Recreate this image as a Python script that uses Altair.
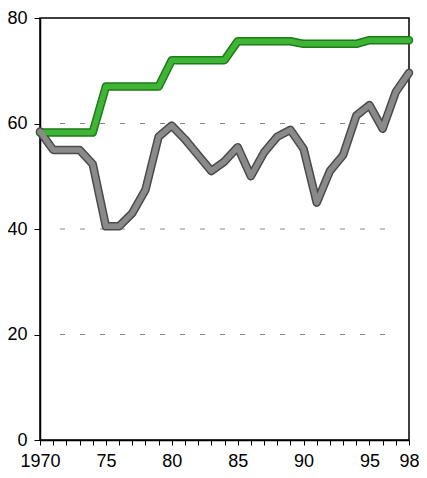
import altair as alt
import pandas as pd

years = list(range(1970, 1999))
green_vals = [58.3, 58.3, 58.3, 58.3, 58.3, 67, 67, 67, 67, 67,
              72, 72, 72, 72, 72, 75.6, 75.6, 75.6, 75.6, 75.6,
              75.1, 75.1, 75.1, 75.1, 75.1, 75.8, 75.8, 75.8, 75.8]
gray_vals = [58.5, 55, 55, 55, 52.3, 40.5, 40.5, 43, 47.4, 57.5,
             59.6, 57, 54, 51, 52.8, 55.5, 50, 54.5, 57.5, 58.8,
             55.2, 45, 51, 54, 61.5, 63.5, 59, 66, 69.6]
y_ticks = [0, 20, 40, 60, 80]
grid_vals = [20, 40, 60]

df = pd.DataFrame({
    "year": years * 2,
    "value": green_vals + gray_vals,
    "series": ["green"] * len(years) + ["gray"] * len(years),
})

font = "Liberation Sans"

x_axis = alt.Axis(values=years, title=None, grid=False,
                  labelExpr="datum.value == 1970 ? '1970' : (datum.value % 5 == 0 || datum.value == 1998) ? substring(toString(datum.value), 2, 4) : ''",
                  tickSize=5, tickColor="black", tickWidth=1,
                  labelFont=font, labelFontSize=18, labelColor="black",
                  labelPadding=7, domainColor="black", domainWidth=1.5,
                  labelFlush=False, labelOverlap=False)
y_axis = alt.Axis(values=y_ticks, title=None, grid=False,
                  tickSize=6, tickColor="black", tickWidth=1,
                  labelFont=font, labelFontSize=18, labelColor="black",
                  labelPadding=7, domainColor="black", domainWidth=1.5,
                  labelFlush=False)
y_scale = alt.Scale(domain=[0, 80], nice=False)

x_enc = alt.X("year:Q", scale=alt.Scale(domain=[1970, 1998], nice=False, zero=False), axis=x_axis)
y_enc = alt.Y("value:Q", scale=y_scale, axis=y_axis)

grid = alt.Chart(pd.DataFrame({"value": grid_vals})).mark_rule(
    color="#888", strokeWidth=1, strokeDash=[5, 15], strokeDashOffset=-2
).encode(y=alt.Y("value:Q", scale=y_scale, axis=y_axis),
         x=alt.value(18), x2=alt.value(360))

base = alt.Chart(df)
color_outer = alt.Color("series:N", scale=alt.Scale(domain=["green", "gray"], range=["#1f7a1a", "#4a4a4a"]), legend=None)
color_inner = alt.Color("series:N", scale=alt.Scale(domain=["green", "gray"], range=["#3fb535", "#8a8a8a"]), legend=None)

outer = base.mark_line(strokeWidth=8.5, strokeJoin="round", strokeCap="round").encode(
    x=x_enc, y=y_enc, color=color_outer, detail="series:N")
inner = base.mark_line(strokeWidth=5.5, strokeJoin="round", strokeCap="round").encode(
    x=x_enc, y=y_enc, color=color_inner, detail="series:N")

chart = alt.layer(grid, outer, inner).resolve_scale(color="independent").properties(
    width=369, height=422,
    background="white",
    autosize=alt.AutoSizeParams(type="none"),
    padding={"left": 32, "top": 10, "right": 10, "bottom": 30},
).configure_view(stroke="black", strokeWidth=1.5)

chart.save("out.html", embed_options={"renderer": "svg", "actions": False})
